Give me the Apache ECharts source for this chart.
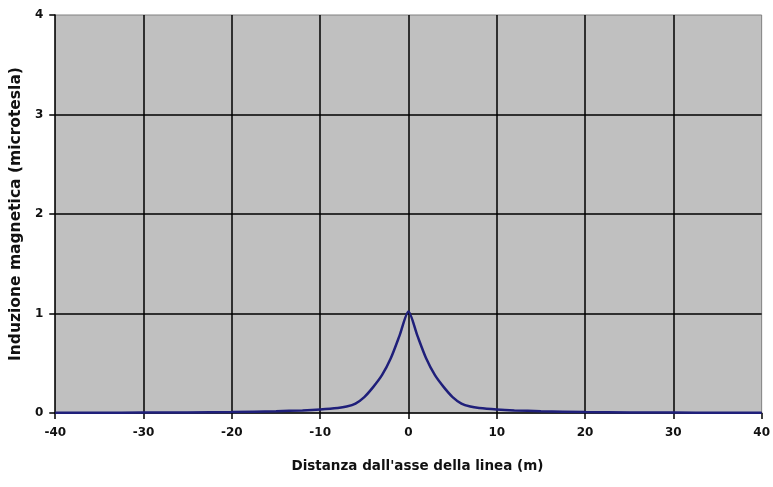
<!DOCTYPE html>
<html lang="it" style="height: 100%">
<head>
  <meta charset="utf-8">
</head>
<body style="height: 100%; margin: 0; background: #fff">
  <div id="container" style="height: 100%"></div>

  <script type="text/javascript" src="https://cdn.jsdelivr.net/npm/echarts@6/dist/echarts.min.js"></script>

  <script type="text/javascript">
    // distanza dall'asse (m) e induzione (microtesla)
    var distances = [-40, -35, -30, -25, -20, -15, -12, -10, -8, -7, -6, -5, -4, -3, -2, -1, 0,
                     1, 2, 3, 4, 5, 6, 7, 8, 10, 12, 15, 20, 25, 30, 35, 40];
    var induction = [0.002, 0.003, 0.004, 0.006, 0.01, 0.018, 0.026, 0.035, 0.05, 0.065, 0.095, 0.16, 0.26, 0.38, 0.55, 0.78, 1.02,
                     0.78, 0.55, 0.38, 0.26, 0.16, 0.095, 0.065, 0.05, 0.035, 0.026, 0.018, 0.01, 0.006, 0.004, 0.003, 0.002];
    var xTicks = { min: -40, max: 40, interval: 10 };
    var yTicks = { min: 0, max: 4, interval: 1 };

    var points = distances.map(function (d, i) { return [d, induction[i]]; });

    var dom = document.getElementById('container');
    var myChart = echarts.init(dom, null, { renderer: 'canvas' });

    var tickFont = {
      color: '#111',
      fontFamily: 'DejaVu Sans',
      fontWeight: 'bold',
      fontSize: 12
    };

    var option = {
      backgroundColor: '#fff',
      animation: false,
      grid: {
        left: 54,
        right: 9,
        top: 15,
        bottom: 74,
        show: true,
        backgroundColor: '#c0c0c0',
        borderColor: '#808080',
        borderWidth: 1
      },
      xAxis: {
        type: 'value',
        min: xTicks.min,
        max: xTicks.max,
        interval: xTicks.interval,
        name: "Distanza dall'asse della linea (m)",
        nameLocation: 'middle',
        nameGap: 46,
        nameTextStyle: Object.assign({}, tickFont, { fontSize: 13.5, padding: [0, 0, 0, 18] }),
        axisLine: { show: true, onZero: false, lineStyle: { color: '#000', width: 1.5 } },
        axisTick: { show: true, inside: false, length: 6, lineStyle: { color: '#000', width: 1.5 } },
        axisLabel: Object.assign({ margin: 14 }, tickFont),
        splitLine: { show: true, showMinLine: false, showMaxLine: false, lineStyle: { color: '#000', width: 1.5 } }
      },
      yAxis: {
        type: 'value',
        min: yTicks.min,
        max: yTicks.max,
        interval: yTicks.interval,
        name: 'Induzione magnetica (microtesla)',
        nameLocation: 'middle',
        nameGap: 27,
        nameTextStyle: Object.assign({}, tickFont, { fontSize: 15.5 }),
        axisLine: { show: true, onZero: false, lineStyle: { color: '#000', width: 1.5 } },
        axisTick: { show: true, inside: false, length: 6, lineStyle: { color: '#000', width: 1.5 } },
        axisLabel: Object.assign({ margin: 12 }, tickFont),
        splitLine: { show: true, showMinLine: false, showMaxLine: false, lineStyle: { color: '#000', width: 1.5 } }
      },
      series: [
        {
          type: 'line',
          data: points,
          smooth: 0.25,
          showSymbol: false,
          lineStyle: { color: '#1f1f7a', width: 2.5 },
          z: 5
        }
      ]
    };

    myChart.setOption(option);
    window.addEventListener('resize', myChart.resize);
  </script>
</body>
</html>
